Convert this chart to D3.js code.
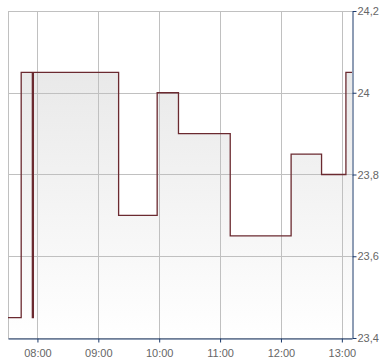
<!DOCTYPE html>
<html lang="en">
<head>
<meta charset="UTF-8">
<title>Intraday step chart</title>
<style>
html,body{margin:0; width:390px; height:364px; overflow:hidden; background:#fff; font-family:Arial, "Liberation Sans", Helvetica, sans-serif;}
svg{display:block;}
.tick text{fill:#666; font-size:11px;}
</style>
</head>
<body>
<svg width="390" height="364"></svg>
<script src="https://d3js.org/d3.v7.min.js"></script>
<script>
// step data: time of change and price from then on
const times  = ["07:31","07:44","07:55","07:56","09:20","09:58","10:19","11:10","12:10","12:40","13:04"];
const prices = [23.45, 24.05, 23.45, 24.05, 23.70, 24.00, 23.90, 23.65, 23.85, 23.80, 24.05];
const xStart = "07:31", xEnd = "13:10";
const yTicks = [23.4, 23.6, 23.8, 24.0, 24.2];

const svg = d3.select("svg");
const m = {top:11, right:38, bottom:26, left:8};
const width = 390, height = 364;
const iw = width - m.left - m.right, ih = height - m.top - m.bottom;

const parse = s => { const [h,mi] = s.split(":").map(Number); return new Date(2020,0,1,h,mi); };
const data = times.map((t,i)=>({t:parse(t), v:prices[i]}));
data.push({t:parse(xEnd), v:prices[prices.length-1]});

const x = d3.scaleTime().domain([parse(xStart), parse(xEnd)]).range([m.left, m.left+iw]);
const y = d3.scaleLinear().domain([23.4, 24.2]).range([m.top+ih, m.top]);

const defs = svg.append("defs");
const grad = defs.append("linearGradient").attr("id","fillGrad")
  .attr("gradientUnits","userSpaceOnUse").attr("x1",0).attr("x2",0).attr("y1",m.top).attr("y2",m.top+ih);
grad.append("stop").attr("offset","0%").attr("stop-color","#e4e4e4");
grad.append("stop").attr("offset","100%").attr("stop-color","#ffffff");

// area under the step line
svg.append("path").datum(data)
  .attr("fill","url(#fillGrad)")
  .attr("d", d3.area().curve(d3.curveStepAfter).x(d=>x(d.t)).y0(y(23.4)).y1(d=>y(d.v)));

// grid
const hours = x.ticks(d3.timeHour.every(1));
svg.append("g").selectAll("line").data(hours).join("line")
  .attr("x1",d=>Math.round(x(d))+0.5).attr("x2",d=>Math.round(x(d))+0.5)
  .attr("y1",m.top).attr("y2",m.top+ih)
  .attr("stroke","#c0c0c0");
svg.append("g").selectAll("line").data(yTicks).join("line")
  .attr("x1",m.left).attr("x2",m.left+iw)
  .attr("y1",d=>Math.round(y(d))+0.5).attr("y2",d=>Math.round(y(d))+0.5)
  .attr("stroke","#c0c0c0");
svg.append("line").attr("x1",m.left+0.5).attr("x2",m.left+0.5)
  .attr("y1",m.top).attr("y2",m.top+ih).attr("stroke","#c0c0c0");

// step line
svg.append("path").datum(data)
  .attr("fill","none").attr("stroke","#6b2a30").attr("stroke-width",1.3)
  .attr("d", d3.line().curve(d3.curveStepAfter).x(d=>x(d.t)).y(d=>y(d.v)));

// axes
const fmtY = d => d3.format(".1~f")(d).replace(".",",");
const xAxis = svg.append("g").attr("transform",`translate(0,${m.top+ih+0.5})`)
  .call(d3.axisBottom(x).ticks(d3.timeHour.every(1)).tickFormat(d3.timeFormat("%H:%M")).tickSize(4).tickSizeOuter(0));
const yAxis = svg.append("g").attr("transform",`translate(${m.left+iw+0.5},0)`)
  .call(d3.axisRight(y).tickValues(yTicks).tickFormat(fmtY).tickSize(4).tickSizeOuter(0));
[xAxis,yAxis].forEach(g=>{
  g.select(".domain").attr("stroke","#1c3a6b");
  g.selectAll(".tick line").attr("stroke","#1c3a6b");
  g.selectAll(".tick text").attr("fill","#666").style("font-size","11px");
});
xAxis.selectAll(".tick text").attr("dy","1.0em");
yAxis.selectAll(".tick text").attr("x",5);
</script>
</body>
</html>
